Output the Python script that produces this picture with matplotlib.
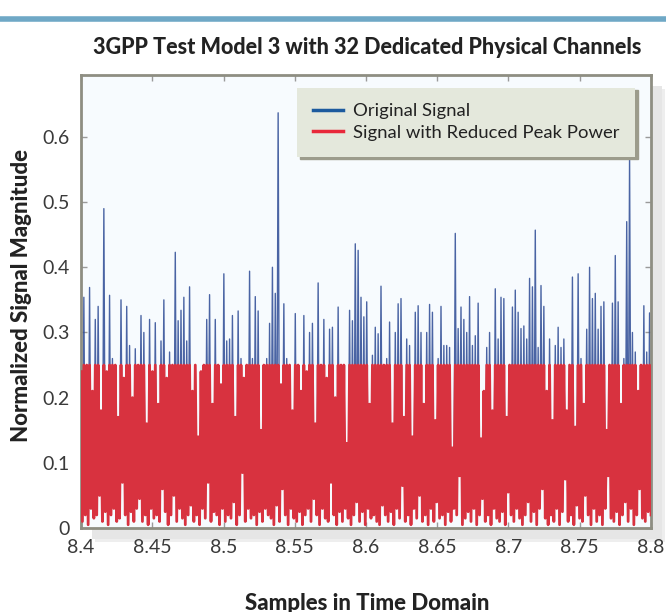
import numpy as np
import matplotlib
matplotlib.use("Agg")
import matplotlib.pyplot as plt
from matplotlib.patches import Rectangle
from matplotlib.lines import Line2D

# local maxima of the original signal magnitude (200 cycles)
orig_peaks = [
    0.24, 0.354, 0.25, 0.369, 0.21, 0.32, 0.34, 0.18, 0.49, 0.24,
    0.357, 0.26, 0.25, 0.17, 0.35, 0.23, 0.34, 0.28, 0.20, 0.275,
    0.25, 0.326, 0.30, 0.16, 0.32, 0.24, 0.315, 0.19, 0.287, 0.35,
    0.23, 0.27, 0.25, 0.423, 0.318, 0.334, 0.354, 0.287, 0.37, 0.21,
    0.25, 0.14, 0.24, 0.25, 0.32, 0.358, 0.19, 0.32, 0.25, 0.22,
    0.39, 0.287, 0.29, 0.326, 0.17, 0.333, 0.26, 0.23, 0.25, 0.394,
    0.26, 0.355, 0.333, 0.15, 0.25, 0.26, 0.314, 0.40, 0.36, 0.637,
    0.22, 0.344, 0.26, 0.25, 0.18, 0.329, 0.25, 0.21, 0.326, 0.24,
    0.30, 0.314, 0.16, 0.376, 0.25, 0.32, 0.23, 0.305, 0.308, 0.20,
    0.339, 0.25, 0.25, 0.13, 0.334, 0.318, 0.436, 0.426, 0.354, 0.324,
    0.347, 0.19, 0.265, 0.308, 0.298, 0.371, 0.25, 0.26, 0.316, 0.16,
    0.30, 0.344, 0.352, 0.17, 0.29, 0.28, 0.14, 0.331, 0.341, 0.30,
    0.19, 0.30, 0.343, 0.331, 0.165, 0.26, 0.34, 0.28, 0.28, 0.277,
    0.123, 0.452, 0.306, 0.339, 0.32, 0.30, 0.355, 0.28, 0.295, 0.345,
    0.137, 0.21, 0.277, 0.30, 0.18, 0.367, 0.29, 0.354, 0.352, 0.17,
    0.25, 0.339, 0.365, 0.331, 0.306, 0.31, 0.29, 0.383, 0.37, 0.457,
    0.277, 0.372, 0.34, 0.21, 0.29, 0.165, 0.28, 0.308, 0.277, 0.29,
    0.18, 0.25, 0.385, 0.155, 0.39, 0.26, 0.19, 0.305, 0.40, 0.352,
    0.36, 0.305, 0.34, 0.347, 0.15, 0.25, 0.345, 0.418, 0.347, 0.19,
    0.26, 0.47, 0.572, 0.30, 0.27, 0.21, 0.25, 0.341, 0.27, 0.33,
]

# local minima between the peaks
orig_troughs = [
    0.01, 0.02, 0.005, 0.03, 0.015, 0.02, 0.05, 0.01, 0.025, 0.005,
    0.02, 0.03, 0.01, 0.015, 0.07, 0.02, 0.005, 0.025, 0.01, 0.03,
    0.045, 0.01, 0.02, 0.005, 0.03, 0.015, 0.02, 0.01, 0.06, 0.025,
    0.005, 0.02, 0.05, 0.01, 0.03, 0.015, 0.005, 0.02, 0.035, 0.01,
    0.02, 0.005, 0.03, 0.015, 0.07, 0.01, 0.025, 0.02, 0.005, 0.03,
    0.01, 0.02, 0.015, 0.04, 0.005, 0.02, 0.085, 0.01, 0.03, 0.015,
    0.02, 0.005, 0.025, 0.01, 0.03, 0.02, 0.015, 0.005, 0.035, 0.01,
    0.06, 0.02, 0.005, 0.03, 0.015, 0.01, 0.025, 0.005, 0.02, 0.03,
    0.01, 0.045, 0.02, 0.005, 0.03, 0.015, 0.01, 0.07, 0.02, 0.005,
    0.025, 0.01, 0.03, 0.015, 0.005, 0.02, 0.04, 0.01, 0.025, 0.005,
    0.03, 0.015, 0.02, 0.01, 0.005, 0.035, 0.02, 0.01, 0.025, 0.005,
    0.03, 0.015, 0.065, 0.01, 0.02, 0.005, 0.03, 0.015, 0.05, 0.01,
    0.02, 0.005, 0.03, 0.01, 0.04, 0.015, 0.02, 0.005, 0.025, 0.01,
    0.03, 0.02, 0.08, 0.005, 0.015, 0.025, 0.01, 0.03, 0.005, 0.02,
    0.045, 0.01, 0.02, 0.005, 0.03, 0.015, 0.01, 0.025, 0.005, 0.055,
    0.02, 0.01, 0.03, 0.015, 0.005, 0.02, 0.04, 0.01, 0.025, 0.005,
    0.03, 0.06, 0.015, 0.005, 0.02, 0.01, 0.03, 0.005, 0.025, 0.075,
    0.01, 0.02, 0.005, 0.035, 0.015, 0.01, 0.05, 0.02, 0.005, 0.03,
    0.01, 0.02, 0.005, 0.03, 0.08, 0.015, 0.01, 0.025, 0.005, 0.02,
    0.04, 0.01, 0.03, 0.005, 0.02, 0.06, 0.015, 0.01, 0.025, 0.02,
]

clip_level = 0.25          # peak power reduction threshold
t_start, t_end = 8.4, 8.8
xticks = [8.4, 8.45, 8.5, 8.55, 8.6, 8.65, 8.7, 8.75, 8.8]
xticklabels = ["8.4", "8.45", "8.5", "8.55", "8.6", "8.65", "8.7", "8.75", "8.8"]
yticks = [0, 0.1, 0.2, 0.3, 0.4, 0.5, 0.6]
yticklabels = ["0", "0.1", "0.2", "0.3", "0.4", "0.5", "0.6"]
series_names = ["Original Signal", "Signal with Reduced Peak Power"]

#------------------------------------------------------------
n = len(orig_peaks)
orig = np.empty(2 * n)
orig[0::2] = orig_peaks
orig[1::2] = orig_troughs
reduced = np.minimum(orig, clip_level)
t = np.linspace(t_start, t_end, 2 * n)

FONT = "Lato"
W, H = 666, 612
fig = plt.figure(figsize=(W / 100, H / 100), dpi=100)
fig.patch.set_facecolor("white")

# header rule
fig.add_artist(Line2D([0, 1], [1 - 19 / H, 1 - 19 / H], color="#6fa8c6", lw=4))

ax_l, ax_r, ax_t, ax_b = 81, 651, 75, 528
ax = fig.add_axes([ax_l / W, 1 - ax_b / H, (ax_r - ax_l) / W, (ax_b - ax_t) / H])

# drop shadow behind the plot box
for off, c in [(14, "#eeeeee"), (11, "#e6e6e6")]:
    fig.add_artist(Rectangle(((ax_l + off) / W, 1 - (ax_b + off) / H),
                             (ax_r - ax_l) / W, (ax_b - ax_t) / H,
                             transform=fig.transFigure, fc=c, ec="none", zorder=0))

ax.set_facecolor("#f7fbfe")
ax.set_zorder(2)
ax.plot(t, orig, color="#2c4a94", lw=1.0, alpha=0.85, zorder=2)
ax.plot(t, reduced, color="#d8323f", lw=2.0, zorder=3)

ax.set_xlim(t_start, t_end)
ax.set_ylim(0, 0.695)
ax.set_xticks(xticks)
ax.set_xticklabels(xticklabels)
ax.set_yticks(yticks)
ax.set_yticklabels(yticklabels)
ax.tick_params(direction="in", length=4, width=1, color="#9a9a9a", top=True, right=True,
               labelsize=14, labelcolor="#3a3a3a", pad=8)
for lab in ax.get_xticklabels() + ax.get_yticklabels():
    lab.set_family(FONT)
for s in ax.spines.values():
    s.set_color("#8e8e82")
    s.set_linewidth(2)

handles = [Line2D([], [], color="#1c5a9e", lw=2.5), Line2D([], [], color="#e8283a", lw=2.5)]
leg = ax.legend(handles, series_names, loc="upper right", bbox_to_anchor=(0.972, 0.972),
                frameon=True, fancybox=False, shadow={"color": "#9c9c8c", "alpha": 1},
                prop={"family": FONT, "size": 13.3}, handlelength=1.6, handletextpad=0.55,
                borderpad=0.85, labelspacing=0.3, borderaxespad=0)
leg.get_frame().set_facecolor("#e4e8dc")
leg.get_frame().set_edgecolor("none")
leg.get_frame().set_alpha(1)
for txt in leg.get_texts():
    txt.set_color("#222222")

fig.text(367 / W, 1 - 48 / H, "3GPP Test Model 3 with 32 Dedicated Physical Channels",
         ha="center", va="center", fontsize=15.5, fontweight="black", family=FONT, color="#222222")
fig.text(22 / W, 1 - 295 / H, "Normalized Signal Magnitude", rotation=90,
         ha="center", va="center", fontsize=16, fontweight="black", family=FONT, color="#222222")
fig.text(367 / W, 1 - 603 / H, "Samples in Time Domain",
         ha="center", va="center", fontsize=16, fontweight="black", family=FONT, color="#222222")

fig.savefig("out.png", dpi=100)
